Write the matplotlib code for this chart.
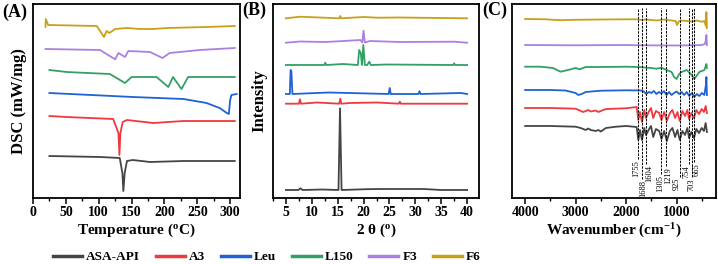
import matplotlib.pyplot as plt
from matplotlib.ticker import MultipleLocator
from matplotlib.lines import Line2D

plt.rcParams['font.family'] = ['Liberation Serif', 'DejaVu Serif']
plt.rcParams['font.weight'] = 'bold'
plt.rcParams['axes.labelweight'] = 'bold'
plt.rcParams['mathtext.fontset'] = 'custom'
plt.rcParams['mathtext.rm'] = 'Liberation Serif'
plt.rcParams['mathtext.bf'] = 'Liberation Serif:bold'

names = ['ASA-API', 'A3', 'Leu', 'L150', 'F3', 'F6']
colors = ['#454545', '#ee3a3f', '#1f62d3', '#32a064', '#ac80e2', '#c9a017']

ticks_a = [0, 50, 100, 150, 200, 250, 300]
ticks_b = [5, 10, 15, 20, 25, 30, 35, 40]
ticks_c = [4000, 3000, 2000, 1000]

# ---- (A) DSC: temperature (oC) and heat flow (offset, arbitrary units)
dsc_t = {
    'ASA-API': [25, 102, 132, 136, 137.5, 139.5, 143, 152, 178, 229, 307],
    'A3': [25, 51, 122, 130, 131.5, 133, 136.5, 143, 183, 229, 307],
    'Leu': [25, 152, 229, 264, 284, 295, 298, 300, 302, 310],
    'L150': [25, 51, 117, 140, 150, 188, 206, 213, 226, 236, 307],
    'F3': [19, 102, 125, 130, 140, 145, 178, 197, 208, 254, 307],
    'F6': [19, 19.5, 23, 97, 108, 112, 116, 125, 143, 163, 183, 204, 264, 307],
}
dsc_y = {
    'ASA-API': [44, 43, 42, 27, 9, 27, 39, 40, 38, 39, 39],
    'A3': [84, 83, 81, 67, 45, 67, 78, 80, 77, 79, 79],
    'Leu': [107, 103, 101, 97, 92, 87, 86, 100, 105, 106],
    'L150': [130, 128, 126, 117, 123, 123, 113, 123, 111, 123, 123],
    'F3': [151, 150, 140.7, 147, 143, 149, 148, 142, 147, 150, 152],
    'F6': [173, 181, 175, 174, 163, 169, 167, 171, 172, 171, 171, 172, 173, 174],
}

# ---- (B) XRD: 2 theta (o) and intensity (offset, arbitrary units)
xrd_x = {
    'ASA-API': [5, 7.4, 7.8, 8.2, 12, 15.15, 15.45, 15.75, 20.5, 23.2, 27, 31.6, 35, 40],
    'A3': [5, 7.5, 7.7, 7.9, 11, 15.3, 15.5, 15.7, 17.3, 22.6, 26.8, 27, 27.2, 40],
    'Leu': [5, 5.75, 5.9, 6.05, 6.25, 13.3, 24.85, 25.05, 25.25, 30.6, 30.8, 31, 38.8, 40],
    'L150': [5, 12.4, 12.6, 12.8, 16, 18.9, 19.15, 19.45, 19.7, 19.95, 20.25, 20.7, 21.1, 21.4, 24.5, 37.3, 37.5, 37.7, 40],
    'F3': [5, 7.7, 12.6, 15.5, 19.4, 19.75, 20.0, 20.25, 21.2, 27, 37.5, 40],
    'F6': [5, 7.7, 15.3, 15.5, 15.7, 20.0, 22.6, 27, 40],
}
xrd_y = {
    'ASA-API': [10, 10, 11.7, 10, 10.5, 10, 91.7, 10, 10.8, 11, 11, 11, 10, 10],
    'A3': [96.3, 96.3, 100.7, 96.3, 97.5, 96.3, 101.3, 96.3, 97, 97.5, 96.3, 98.3, 96.3, 96.3],
    'Leu': [106, 106, 130, 129, 106, 107.5, 106, 112, 106, 106, 108.7, 106, 107, 106],
    'L150': [135, 135, 137.3, 135, 136, 135, 150, 147, 135, 155, 135, 135, 138.3, 135, 135.5, 135, 136.7, 135, 135],
    'F3': [157.3, 158.5, 158, 158.8, 160, 157.5, 169.3, 157.5, 159, 158, 158.3, 157.3],
    'F6': [181.7, 183.3, 181.7, 184, 181.7, 183, 182.3, 182.5, 181.7],
}

# ---- (C) FTIR: wavenumber (cm-1) and transmittance (offset, arbitrary units)
ftir_w = {
    'ASA-API': [4000, 3500, 3000, 2900, 2800, 2750, 2700, 2600, 2550, 2500, 2400, 2200, 2000, 1791,
                1758, 1725, 1686, 1640, 1607, 1555, 1508, 1463, 1410, 1345, 1299, 1247, 1194, 1134,
                1083, 1030, 984, 937, 886, 833, 787, 754, 709, 656, 610, 557, 504, 459, 425, 400],
    'A3': [4000, 3500, 3000, 2850, 2750, 2700, 2600, 2550, 2400, 2000, 1791,
           1758, 1725, 1686, 1640, 1607, 1555, 1508, 1463, 1410, 1345, 1299, 1247, 1194, 1134,
           1083, 1030, 984, 937, 886, 833, 787, 754, 709, 656, 610, 557, 504, 459, 425, 400],
    'Leu': [4000, 3500, 3200, 3000, 2950, 2880, 2800, 2500, 2000, 1700, 1650, 1600, 1550, 1500,
            1450, 1400, 1350, 1300, 1250, 1200, 1150, 1100, 1050, 1000, 950, 900, 850, 800, 750,
            700, 650, 600, 550, 500, 450, 420, 410, 400],
    'L150': [4000, 3700, 3450, 3300, 3150, 3000, 2920, 2800, 2500, 2000, 1750, 1600, 1500, 1400,
             1300, 1200, 1100, 1050, 1000, 950, 900, 800, 700, 650, 550, 450, 410, 400],
    'F3': [4000, 3000, 2000, 1700, 1000, 700, 500, 440, 420, 410, 400],
    'F6': [4000, 3600, 3300, 3000, 2500, 2000, 1800, 1700, 1600, 1400, 1250, 1100, 1020, 990, 960,
           900, 800, 700, 600, 500, 450, 420, 410, 400],
}
ftir_y = {
    'ASA-API': [74, 74, 73.3, 72, 70, 71.5, 70, 69, 70, 68.5, 72, 73.3, 74, 73,
                60, 70, 60, 72, 65, 70, 74, 63, 71, 69, 61, 69, 59, 69,
                72, 63, 70, 60, 69, 65, 72, 62, 68, 62, 71, 67, 72, 69, 77, 68],
    'A3': [92, 92, 91.3, 88, 90, 88.5, 89.5, 88, 91, 91.7, 93,
           80, 88, 78, 90, 82, 88, 92, 82, 89, 87, 80, 88, 79, 87,
           90, 82, 88, 79, 89, 84, 90, 81, 87, 82, 90, 86, 91, 88, 94, 87],
    'Leu': [110, 110, 109.5, 107, 105, 106, 108, 109.3, 109.7, 109.5, 108.5, 106, 108, 107,
            109, 106, 108, 106.5, 109, 105, 108, 105, 107, 108.5, 106, 108, 105, 108, 104,
            107, 103, 106, 104, 107, 105, 115, 123, 105],
    'L150': [133.3, 133.3, 132, 128.3, 130, 132, 130.7, 133, 133, 133.3, 133, 132.3, 132, 131.3,
             132.3, 130, 128, 123, 121, 126, 128, 130, 125, 121, 128, 130, 136, 132],
    'F3': [155, 154.7, 155, 154.7, 154.5, 154.7, 155, 156, 160, 165, 155],
    'F6': [181, 180.7, 179.8, 180.2, 180.5, 180.7, 180.7, 180, 180.5, 179.5, 180.5, 179.5, 179,
           175, 178.5, 179.5, 179, 178.5, 179.5, 178.2, 179, 174, 188, 172],
}
peak_w = [1755, 1688, 1604, 1305, 1219, 925, 754, 703, 665]
peak_label_x = [1800, 1660, 1545, 1330, 1170, 990, 795, 710, 610]
peak_label_top = [40, 20, 35, 25, 33, 22, 35, 22, 37]

fig = plt.figure(figsize=(7.18, 2.64), dpi=100)
ax_a = fig.add_axes([33 / 718, 66 / 264, 207 / 718, 194 / 264])
ax_b = fig.add_axes([273 / 718, 66 / 264, 206 / 718, 194 / 264])
ax_c = fig.add_axes([512 / 718, 66 / 264, 204 / 718, 194 / 264])

for n, c in zip(names, colors):
    ax_a.plot(dsc_t[n], dsc_y[n], color=c, lw=1.3)
    ax_b.plot(xrd_x[n], xrd_y[n], color=c, lw=1.3)
    ax_c.plot(ftir_w[n], ftir_y[n], color=c, lw=1.3)

for w, lx, top in zip(peak_w, peak_label_x, peak_label_top):
    ax_c.plot([w, w], [top + 1.5, 192], color='black', lw=0.7, ls=(0, (2.5, 1.2)))
    ax_c.text(lx, top, str(w), rotation=90, ha='center', va='top',
              fontsize=6, fontweight='normal')

ax_a.set_xlim(0, 315)
ax_a.set_xticks(ticks_a, [str(t) for t in ticks_a], fontweight='bold')
ax_a.xaxis.set_minor_locator(MultipleLocator(25))
ax_a.set_xlabel('Temperature ($\\mathbf{^{o}}$C)', fontsize=11, labelpad=2)
ax_a.set_ylabel('DSC (mW/mg)', fontsize=12, labelpad=4)

ax_b.set_xlim(2.5, 42.3)
ax_b.set_xticks(ticks_b, [str(t) for t in ticks_b], fontweight='bold')
ax_b.xaxis.set_minor_locator(MultipleLocator(2.5))
ax_b.set_xlabel('2 \u03b8 ($\\mathbf{^{o}}$)', fontsize=11, labelpad=2)
ax_b.set_ylabel('Intensity', fontsize=12, labelpad=4)

ax_c.set_xlim(4260, 220)
ax_c.set_xticks(ticks_c, [str(t) for t in ticks_c], fontweight='bold')
ax_c.xaxis.set_minor_locator(MultipleLocator(500))
ax_c.set_xlabel('Wavenumber (cm$\\mathbf{^{-1}}$)', fontsize=11, labelpad=2)

for ax in (ax_a, ax_b, ax_c):
    ax.set_ylim(2, 196)
    ax.set_yticks([])
    ax.tick_params(axis='x', which='major', direction='out', length=4, width=1.1, labelsize=10, pad=2)
    ax.tick_params(axis='x', which='minor', direction='out', length=2.5, width=1)
    for s in ax.spines.values():
        s.set_linewidth(1.3)

fig.text(2 / 718, 1 - 12 / 264, '(A)', fontsize=13, fontweight='bold', va='center', ha='left')
fig.text(242 / 718, 1 - 10 / 264, '(B)', fontsize=13, fontweight='bold', va='center', ha='left')
fig.text(482 / 718, 1 - 10 / 264, '(C)', fontsize=13, fontweight='bold', va='center', ha='left')

handles = [Line2D([], [], color=c, lw=2.5) for c in colors]
fig.legend(handles, names, loc='center left', bbox_to_anchor=(53 / 718, 1 - 257 / 264),
           ncol=6, frameon=False, prop={'weight': 'bold', 'size': 9.5}, handlelength=2.2,
           handletextpad=0.3, columnspacing=1.2, borderaxespad=0, borderpad=0)

fig.savefig('out.png', dpi=100)
